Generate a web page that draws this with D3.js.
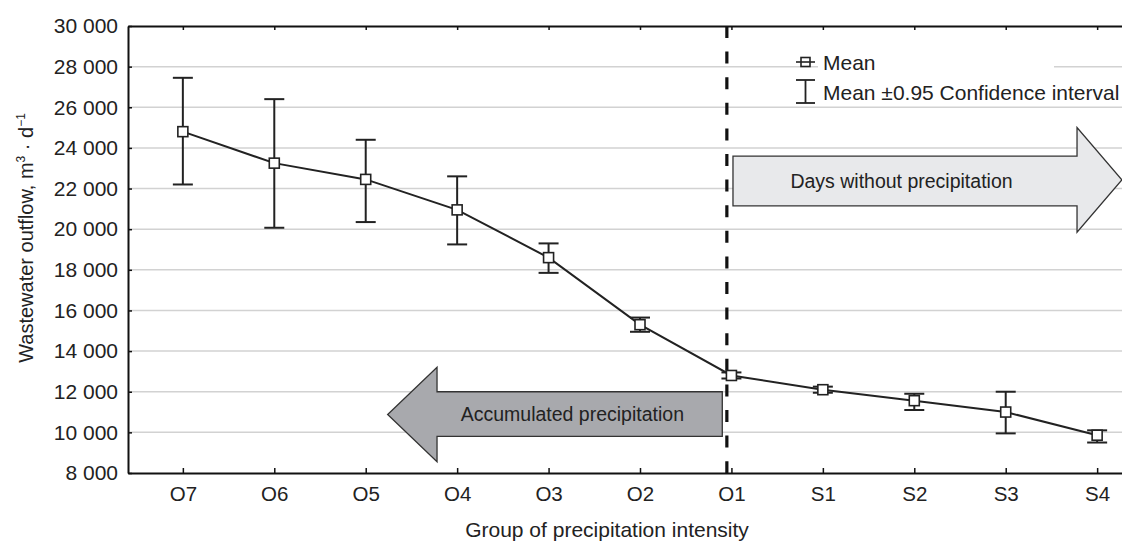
<!DOCTYPE html>
<html>
<head>
<meta charset="utf-8">
<script src="https://cdn.jsdelivr.net/npm/d3@7"></script>
<style>
  body { margin: 0; background: #fff; }
  text { font-family: "Liberation Sans", Arial, sans-serif; fill: #222; }
</style>
</head>
<body>
<div id="chart"></div>
<script>
// groups of precipitation intensity and outflow stats (m3/d)
var groups = ["O7", "O6", "O5", "O4", "O3", "O2", "O1", "S1", "S2", "S3", "S4"];
var means  = [24800, 23250, 22450, 20950, 18600, 15300, 12800, 12100, 11560, 11000, 9860];
var ciLow  = [22200, 20070, 20350, 19250, 17850, 14950, 12650, 11950, 11100, 9950, 9500];
var ciHigh = [27450, 26400, 24400, 22600, 19300, 15650, 12950, 12250, 11900, 12000, 10100];
var yTicks = [8000, 10000, 12000, 14000, 16000, 18000, 20000, 22000, 24000, 26000, 28000, 30000];

var W = 1122, H = 541
var mLeft = 128, mTop = 26, mBottom = 473, mRight = 1152

var svg = d3.select("#chart").append("svg")
  .attr("width", W)
  .attr("height", H)

var x = d3.scalePoint().domain(groups).range([mLeft, mRight]).padding(0.6)
// continuous version of x, in group index units (for annotations)
var xi = d3.scaleLinear().domain([0, groups.length - 1]).range([x(groups[0]), x(groups[groups.length - 1])])
var y = d3.scaleLinear().domain([8000, 30000]).range([mBottom, mTop])

var fmt = d3.formatLocale({decimal: ".", thousands: " ", grouping: [3], currency: ["", ""]}).format(",")

// grid
svg.append("g").selectAll("line")
  .data(yTicks.slice(1, -1))
  .join("line")
  .attr("x1", mLeft).attr("x2", W)
  .attr("y1", d => y(d)).attr("y2", d => y(d))
  .attr("stroke", "#d2d2d2")
  .attr("stroke-width", 1.5)

// left axis
var yAxis = svg.append("g")
  .attr("transform", "translate(" + mLeft + ",0)")
  .call(d3.axisLeft(y).tickValues(yTicks).tickFormat(fmt).tickSizeInner(-4).tickSizeOuter(0).tickPadding(10))
yAxis.select(".domain").attr("stroke", "#111").attr("stroke-width", 2)
yAxis.selectAll(".tick line").attr("stroke", "#111").attr("stroke-width", 1.5)
yAxis.selectAll(".tick text").style("font-size", "21px").attr("fill", "#222")

// bottom axis
var xAxis = svg.append("g")
  .attr("transform", "translate(0," + mBottom + ")")
  .call(d3.axisBottom(x).tickSizeInner(-5).tickSizeOuter(0).tickPadding(13))
xAxis.select(".domain").attr("stroke", "#111").attr("stroke-width", 2)
xAxis.selectAll(".tick line").attr("stroke", "#111").attr("stroke-width", 1.5)
xAxis.selectAll(".tick text").style("font-size", "20.5px").attr("fill", "#222")

// top border with inner ticks
var tAxis = svg.append("g")
  .attr("transform", "translate(0," + mTop + ")")
  .call(d3.axisTop(x).tickSizeInner(-4).tickSizeOuter(0).tickFormat(""))
tAxis.select(".domain").attr("stroke", "#111").attr("stroke-width", 2)
tAxis.selectAll(".tick line").attr("stroke", "#111").attr("stroke-width", 1.5)

// legend (white patch behind)
svg.append("rect")
  .attr("x", 818).attr("y", 50).attr("width", 236).attr("height", 52)
  .attr("fill", "#fff")

// arrows
function arrowPath(a) {
  var bx0 = xi(a.body0), bx1 = xi(a.body1), tip = xi(a.tip)
  var pts = [
    [bx0, y(a.bodyTop)], [bx1, y(a.bodyTop)], [bx1, y(a.headTop)],
    [tip, y((a.headTop + a.headBot) / 2)],
    [bx1, y(a.headBot)], [bx1, y(a.bodyBot)], [bx0, y(a.bodyBot)]
  ]
  return d3.line()(pts) + "Z"
}
var arrows = [
  {body0: 6.017, body1: 9.78, tip: 10.27, bodyTop: 23600, bodyBot: 21150, headTop: 25000, headBot: 19850,
   fill: "#e8e9eb", label: "Days without precipitation", lx: 7.86},
  {body0: 5.90, body1: 2.78, tip: 2.24, bodyTop: 12000, bodyBot: 9800, headTop: 13200, headBot: 8550,
   fill: "#a8a9ad", label: "Accumulated precipitation", lx: 4.26}
]
svg.append("g").selectAll("path")
  .data(arrows)
  .join("path")
  .attr("d", arrowPath)
  .attr("fill", d => d.fill)
  .attr("stroke", "#333")
  .attr("stroke-width", 1.3)
svg.append("g").selectAll("text")
  .data(arrows)
  .join("text")
  .attr("x", d => xi(d.lx))
  .attr("y", d => y((d.bodyTop + d.bodyBot) / 2) + 7)
  .attr("text-anchor", "middle")
  .style("font-size", "19.5px")
  .text(d => d.label)

// dashed divider near O1
svg.append("line")
  .attr("x1", xi(5.95)).attr("x2", xi(5.95))
  .attr("y1", mTop).attr("y2", mBottom)
  .attr("stroke", "#111")
  .attr("stroke-width", 3.2)
  .attr("stroke-dasharray", "12,13.6")

// mean line
svg.append("path")
  .datum(means)
  .attr("d", d3.line().x((d, i) => x(groups[i])).y(d => y(d)))
  .attr("fill", "none")
  .attr("stroke", "#222")
  .attr("stroke-width", 2)

// error bars
var eb = svg.append("g").selectAll("g")
  .data(groups)
  .join("g")
  .attr("stroke", "#222")
  .attr("stroke-width", 2)
eb.append("line")
  .attr("x1", d => x(d)).attr("x2", d => x(d))
  .attr("y1", (d, i) => y(ciLow[i])).attr("y2", (d, i) => y(ciHigh[i]))
eb.append("line")
  .attr("x1", d => x(d) - 10).attr("x2", d => x(d) + 10)
  .attr("y1", (d, i) => y(ciLow[i])).attr("y2", (d, i) => y(ciLow[i]))
eb.append("line")
  .attr("x1", d => x(d) - 10).attr("x2", d => x(d) + 10)
  .attr("y1", (d, i) => y(ciHigh[i])).attr("y2", (d, i) => y(ciHigh[i]))

// mean markers
svg.append("g").selectAll("rect")
  .data(groups)
  .join("rect")
  .attr("x", d => x(d) - 5)
  .attr("y", (d, i) => y(means[i]) - 5)
  .attr("width", 10).attr("height", 10)
  .attr("fill", "#fff")
  .attr("stroke", "#222")
  .attr("stroke-width", 1.6)

// legend
var lg = svg.append("g").attr("transform", "translate(796,62)")
lg.append("line").attr("x1", 0).attr("x2", 19).attr("y1", 0).attr("y2", 0).attr("stroke", "#222").attr("stroke-width", 1.6)
lg.append("rect").attr("x", 5).attr("y", -4.5).attr("width", 9).attr("height", 9)
  .attr("fill", "none").attr("stroke", "#222").attr("stroke-width", 1.6)
lg.append("text").attr("x", 823 - 796).attr("y", 7.5).style("font-size", "21px").text("Mean")
var lg2 = svg.append("g").attr("transform", "translate(796,80)").attr("stroke", "#222").attr("stroke-width", 1.8)
lg2.append("line").attr("x1", 0).attr("x2", 19).attr("y1", 0).attr("y2", 0)
lg2.append("line").attr("x1", 0).attr("x2", 19).attr("y1", 23).attr("y2", 23)
lg2.append("line").attr("x1", 9.5).attr("x2", 9.5).attr("y1", 0).attr("y2", 23)
svg.append("text").attr("x", 823).attr("y", 100).style("font-size", "21px").text("Mean ±0.95 Confidence interval")

// axis titles
svg.append("text")
  .attr("x", 607).attr("y", 537)
  .attr("text-anchor", "middle")
  .style("font-size", "21px")
  .text("Group of precipitation intensity")

var yt = svg.append("text")
  .attr("transform", "translate(33,238) rotate(-90)")
  .attr("text-anchor", "middle")
  .style("font-size", "20px")
yt.append("tspan").text("Wastewater outflow, m")
yt.append("tspan").attr("dy", -8).style("font-size", "12px").text("3")
yt.append("tspan").attr("dy", 8).text(" · d")
yt.append("tspan").attr("dy", -8).style("font-size", "12px").text("−1")
</script>
</body>
</html>
